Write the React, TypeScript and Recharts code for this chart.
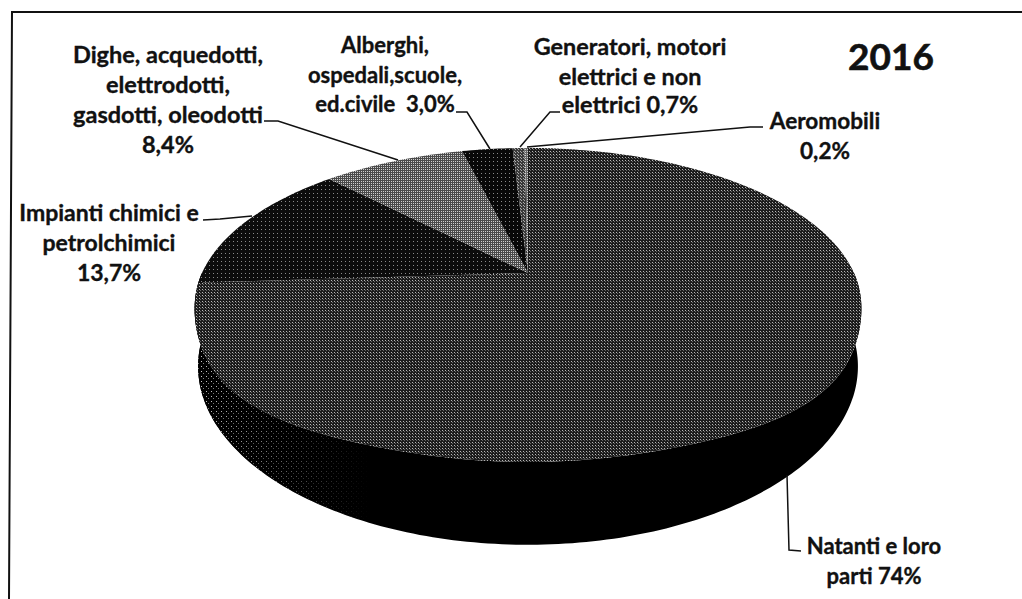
import React from "react";
import { PieChart, Pie, Cell } from "recharts";

const categories = [
  "Natanti e loro parti",
  "Impianti chimici e petrolchimici",
  "Dighe, acquedotti, elettrodotti, gasdotti, oleodotti",
  "Alberghi, ospedali,scuole, ed.civile",
  "Generatori, motori elettrici e non elettrici",
  "Aeromobili",
];
const shares = [74, 13.7, 8.4, 3.0, 0.7, 0.2];
const labelLines = [
  ["Natanti e loro", "parti 74%"],
  ["Impianti chimici e", "petrolchimici", "13,7%"],
  ["Dighe, acquedotti,", "elettrodotti,", "gasdotti, oleodotti", "8,4%"],
  ["Alberghi,", "ospedali,scuole,", "ed.civile  3,0%"],
  ["Generatori, motori", "elettrici e non", "elettrici 0,7%"],
  ["Aeromobili", "0,2%"],
];
const title = "2016";

const data = categories.map((name, i) => ({ name, value: shares[i] }));

// layout
const W = 1022, H = 599;
const CX = 528, CY = 273, RX = 326;
const K = 0.2038, TOP_RATIO = 150.5 / 326;
const BOTTOM_CX = 528, BOTTOM_CY = 330, BOTTOM_RX = 323, BOTTOM_RATIO = 171 / 323;
const BULGE = 0.04;
const labelPos = [
  { x: 874, s: 22, y: [554, 584] },
  { x: 109, s: 23, y: [221, 251, 281] },
  { x: 168, s: 23.5, y: [63, 93, 123, 153] },
  { x: 385, s: 22, y: [53, 83, 112] },
  { x: 630, s: 23.4, y: [55, 85, 113] },
  { x: 825, s: 22.6, y: [129, 159] },
];
const leaders = [
  "787,475 789,550 801,551",
  "203,220 220,219 252,216",
  "264,121 278,121 398,160",
  "456,112 467,112 490,149",
  "560,112 550,112 520,147",
  "763,127 750,127 527,147",
];
const fills = ["url(#pNat)", "url(#pImp)", "url(#pDig)", "url(#pAlb)", "url(#pGen)", "url(#pAer)"];

const pt = (cx: number, cy: number, r: number, ratio: number, deg: number, bulge = 0) => {
  const a = (deg * Math.PI) / 180;
  const s = Math.sin(a);
  const w = 1 + K * s;
  const f = s < 0 ? 1 + bulge * Math.sin(2 * a) ** 4 : 1;
  return [cx + (f * r * Math.cos(a)) / w, cy - (f * r * ratio * s) / w];
};

const arc = (cx: number, cy: number, r: number, ratio: number, from: number, to: number, bulge = 0) => {
  const n = Math.max(2, Math.ceil(Math.abs(to - from)));
  const out: string[] = [];
  for (let i = 0; i <= n; i++) {
    const p = pt(cx, cy, r, ratio, from + ((to - from) * i) / n, bulge);
    out.push(`${p[0].toFixed(2)},${p[1].toFixed(2)}`);
  }
  return out;
};

const TopSlice = (p: any) => {
  const pts = arc(p.cx, p.cy, p.outerRadius, TOP_RATIO, p.startAngle, p.endAngle, BULGE);
  const d = `M${p.cx},${p.cy}L${pts.join("L")}Z`;
  return <path d={d} fill={p.fill} stroke="none" />;
};

const WallSlice = (p: any) => {
  const from = Math.max(p.endAngle, -180);
  const to = Math.min(p.startAngle, 0);
  if (to <= from) return <g />;
  const top = arc(p.cx, p.cy, p.outerRadius, TOP_RATIO, to, from, BULGE);
  const bottom = arc(BOTTOM_CX, BOTTOM_CY, BOTTOM_RX, BOTTOM_RATIO, from, to);
  const d = `M${top.concat(bottom).join("L")}Z`;
  return (
    <g>
      <path d={d} fill="#000" />
      <path d={d} fill="url(#pWall)" mask="url(#wallFade)" />
    </g>
  );
};

const renderLabel = (p: any) => {
  const i = p.index;
  const pos = labelPos[i];
  return (
    <g key={i}>
      <polyline points={leaders[i]} fill="none" stroke="#111" strokeWidth={1.5} />
      {labelLines[i].map((line, j) => (
        <text
          key={j}
          x={pos.x}
          y={pos.y[j]}
          textAnchor="middle"
          xmlSpace="preserve"
          fontFamily="Lato, sans-serif"
          fontWeight={700}
          fontSize={pos.s}
          fill="#111"
          stroke="#111"
          strokeWidth={0.35}
        >
          {line}
        </text>
      ))}
    </g>
  );
};

const dots = (id: string, size: number, bg: string, dot: string, extra?: React.ReactNode) => (
  <pattern id={id} width={size} height={size} patternUnits="userSpaceOnUse">
    <rect width={size} height={size} fill={bg} />
    <rect x={1} y={1} width={1} height={1} fill={dot} />
    {extra}
  </pattern>
);

export default function App() {
  return (
    <div style={{ position: "absolute", left: 0, top: 0, width: W, height: H, background: "#fff" }}>
      <PieChart width={W} height={H} margin={{ top: 0, right: 0, bottom: 0, left: 0 }}>
        <defs>
          {dots("pNat", 3, "#1c1c1c", "#b8b8b8", <rect x={2} y={2} width={1} height={1} fill="#666" />)}
          {dots("pImp", 4, "#0c0c0c", "#8a8a8a")}
          {dots("pDig", 2, "#4a4a4a", "#cfcfcf")}
          {dots("pAlb", 4, "#080808", "#8a8a8a")}
          {dots("pGen", 3, "#3a3a3a", "#aaa", <rect x={2} y={2} width={1} height={1} fill="#aaa" />)}
          {dots("pAer", 2, "#666", "#ccc")}
          {dots("pWall", 5, "#000", "#ccc", <rect x={3} y={3} width={1} height={1} fill="#888" />)}
          <linearGradient id="wallGrad" gradientUnits="userSpaceOnUse" x1={196} y1={0} x2={370} y2={0}>
            <stop offset="0" stopColor="#fff" />
            <stop offset="1" stopColor="#000" />
          </linearGradient>
          <mask id="wallFade" maskUnits="userSpaceOnUse" x={0} y={0} width={W} height={H}>
            <rect width={W} height={H} fill="url(#wallGrad)" />
          </mask>
        </defs>
        <polyline points="9,599 12,12 1022,12" fill="none" stroke="#111" strokeWidth={2} />
        <Pie
          data={data}
          dataKey="value"
          nameKey="name"
          cx={CX}
          cy={CY}
          outerRadius={RX}
          startAngle={90}
          endAngle={-270}
          shape={WallSlice}
          stroke="none"
          legendType="none"
          isAnimationActive={false}
        />
        <Pie
          data={data}
          dataKey="value"
          nameKey="name"
          cx={CX}
          cy={CY}
          outerRadius={RX}
          startAngle={90}
          endAngle={-270}
          shape={TopSlice}
          stroke="none"
          label={renderLabel}
          labelLine={false}
          isAnimationActive={false}
        >
          {data.map((d, i) => (
            <Cell key={d.name} fill={fills[i]} />
          ))}
        </Pie>
        <text x={891} y={70} textAnchor="middle" fontFamily="Lato, sans-serif" fontWeight={700} fontSize={37} fill="#111" stroke="#111" strokeWidth={0.6}>
          {title}
        </text>
      </PieChart>
    </div>
  );
}
